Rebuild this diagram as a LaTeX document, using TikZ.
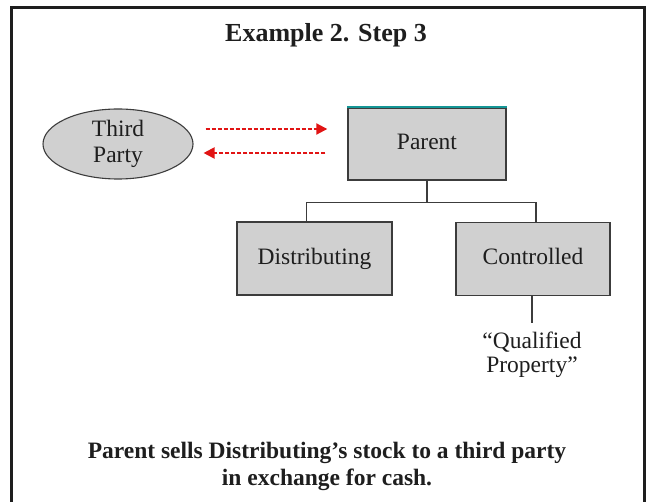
\documentclass[tikz,border=0pt]{standalone}
\usepackage{fontspec}
\setmainfont{Liberation Serif}
\usetikzlibrary{shapes.geometric,arrows.meta,calc}

\definecolor{boxgray}{RGB}{208,208,208}
\definecolor{ink}{RGB}{30,30,30}
\definecolor{edge}{RGB}{60,60,60}
\definecolor{flow}{RGB}{225,20,20}
\definecolor{tealtop}{RGB}{20,150,150}

\tikzset{
  entity/.style={draw=edge, line width=1.4pt, fill=boxgray, rectangle,
    inner sep=0pt, text=ink, text height=16pt, text depth=4pt,
    font=\fontsize{23.5}{24.5}\selectfont},
  party/.style={draw=edge, line width=1.1pt, fill=boxgray, ellipse,
    inner sep=0pt, minimum width=150pt, minimum height=70pt, align=center,
    text=ink, font=\fontsize{23.5}{26.5}\selectfont},
  link/.style={draw=edge, line width=1.3pt},
  flowarrow/.style={draw=flow, line width=2pt, dash pattern=on 4pt off 2pt,
    -{Triangle[length=11pt,width=11pt]}},
  caption/.style={text=ink, inner sep=0pt, anchor=base},
}

\begin{document}
\begin{tikzpicture}[x=1pt,y=-1pt]
  \useasboundingbox (0,0) rectangle (647,502);
  \fill[white] (0,0) rectangle (647,502);

  % outer frame, open at the bottom edge
  \begin{scope}
    \clip (0,0) rectangle (647,502);
    \draw[ink, line width=3pt] (11.5,520) -- (11.5,7.5) -- (644.5,7.5) -- (644.5,520);
  \end{scope}

  % title
  \node[caption, font=\bfseries\fontsize{26}{28}\selectfont] (title) at (326,42)
    {Example 2. Step 3};

  % entities
  \node[party] (tp) at (118,144) {Third\\Party};
  \node[entity, minimum width=158pt, minimum height=72pt] (parent) at (427,144) {Parent};
  \draw[tealtop, line width=1.6pt] (parent.north west) -- (parent.north east);
  \node[entity, minimum width=155pt, minimum height=73pt] (dist) at (314.5,258.5) {Distributing};
  \node[entity, minimum width=154pt, minimum height=73pt] (ctrl) at (533,259) {Controlled};

  % sale of stock for cash
  \draw[flowarrow, shorten <=12pt, shorten >=20pt]
    ([yshift=15pt]tp.east) -- ([yshift=15pt]parent.west);
  \draw[flowarrow, shorten <=22pt, shorten >=10pt]
    ([yshift=-9pt]parent.west) -- ([yshift=-9pt]tp.east);

  % ownership tree
  \coordinate (split) at ($(parent.south)+(0,22)$);
  \draw[link] (parent.south) -- (split);
  \draw[link] (split) -| ([xshift=-8pt]dist.north);
  \draw[link] (split) -| ([xshift=3pt]ctrl.north);

  % qualified property held by Controlled
  \node[text=ink, inner sep=2pt, anchor=north, align=center,
        font=\fontsize{23.5}{24}\selectfont] (qp) at (532,330)
    {``Qualified\\Property''};
  \draw[link, line width=1.1pt] ([xshift=-1pt]ctrl.south) -- ([xshift=-1pt,yshift=7pt]ctrl.south |- qp.north);

  % explanation
  \node[caption, font=\bfseries\fontsize{23.5}{26}\selectfont] (note1) at (327,458)
    {Parent sells Distributing’s stock to a third party};
  \node[caption, font=\bfseries\fontsize{23.5}{26}\selectfont] (note2) at (327,485)
    {in exchange for cash.};
\end{tikzpicture}
\end{document}
